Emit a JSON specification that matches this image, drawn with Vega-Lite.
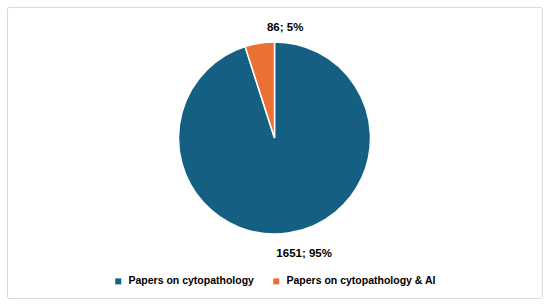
{
  "$schema": "https://vega.github.io/schema/vega-lite/v6.json",
  "width": 535,
  "height": 291,
  "autosize": "none",
  "padding": {"left": 7, "top": 7, "right": 8, "bottom": 9},
  "background": "white",
  "view": {"stroke": "#d9d9d9", "strokeWidth": 1, "cornerRadius": 2, "fill": "white"},
  "config": {
    "view": {"stroke": "#d9d9d9", "strokeWidth": 1},
    "font": "Liberation Sans"
  },
  "data": {
    "values": [
      {"category": "Papers on cytopathology", "count": 1651, "label": "1651; 95%", "order": 1},
      {"category": "Papers on cytopathology & AI", "count": 86, "label": "86; 5%", "order": 2}
    ]
  },
  "encoding": {
    "theta": {"field": "count", "type": "quantitative", "stack": true},
    "order": {"field": "order", "type": "quantitative"}
  },
  "layer": [
    {
      "mark": {"type": "arc", "radius": 96, "stroke": "white", "strokeWidth": 1.5, "yOffset": -14.5},
      "encoding": {
        "color": {
          "field": "category",
          "type": "nominal",
          "scale": {"domain": ["Papers on cytopathology", "Papers on cytopathology & AI"], "range": ["#156082", "#E97132"]},
          "legend": {
            "title": null,
            "orient": "none",
            "direction": "horizontal",
            "legendX": 106,
            "legendY": 269,
            "symbolType": "square",
            "symbolSize": 36,
            "symbolStrokeWidth": 0,
            "labelFont": "Liberation Sans",
            "labelFontSize": 10.5,
            "labelFontWeight": "bold",
            "labelColor": "#000000",
            "labelOffset": 5,
            "columnPadding": 17,
            "labelLimit": 300
          }
        }
      }
    },
    {
      "transform": [{"filter": "datum.order == 2"}],
      "mark": {"type": "text", "radius": 114, "yOffset": -14.5, "dx": -7, "dy": 3, "font": "Liberation Sans", "fontSize": 11.5, "fontWeight": "bold", "color": "#000000"},
      "encoding": {"text": {"field": "label"}}
    },
    {
      "transform": [{"filter": "datum.order == 1"}],
      "mark": {"type": "text", "radius": 114, "yOffset": -14.5, "dx": 12, "dy": 3, "font": "Liberation Sans", "fontSize": 11.5, "fontWeight": "bold", "color": "#000000"},
      "encoding": {"text": {"field": "label"}}
    }
  ]
}
